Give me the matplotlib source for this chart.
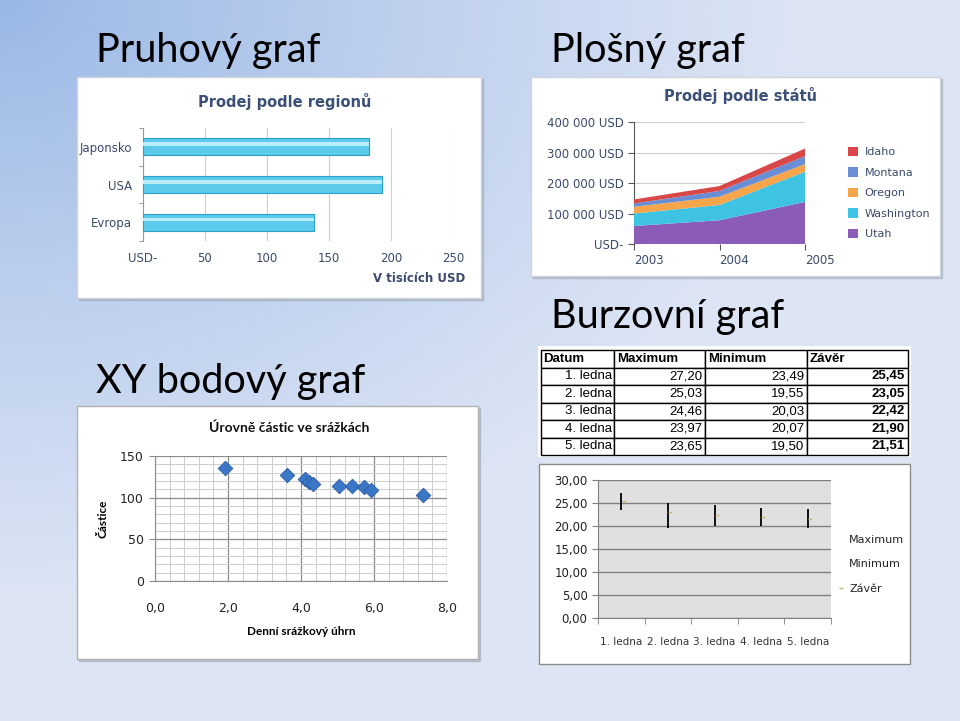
import numpy as np
import matplotlib.pyplot as plt
from matplotlib.patches import Rectangle
from matplotlib.lines import Line2D
from matplotlib.ticker import MultipleLocator

W, H = 960, 721

# --- data ---
regions = ['Evropa', 'USA', 'Japonsko']
region_sales = [138, 193, 182]

years = [2003, 2004, 2005]
states = ['Utah', 'Washington', 'Oregon', 'Montana', 'Idaho']
utah = [59000, 78000, 138000]
washington = [41000, 50000, 99000]
oregon = [22000, 27000, 25000]
montana = [11000, 19000, 26000]
idaho = [13000, 16000, 25000]
state_colors = ['#8a5cb8', '#3fc3e3', '#f6a54a', '#6a8ed6', '#d94848']

rain = [1.92, 3.61, 4.12, 4.23, 4.34, 5.03, 5.41, 5.73, 5.93, 7.33]
particles = [136, 127.6, 122.4, 118.8, 116.4, 113.6, 113.6, 112.4, 109.2, 102.8]

days = ['1. ledna', '2. ledna', '3. ledna', '4. ledna', '5. ledna']
high = [27.20, 25.03, 24.46, 23.97, 23.65]
low = [23.49, 19.55, 20.03, 20.07, 19.50]
close = [25.45, 23.05, 22.42, 21.90, 21.51]


def cz(v, d=2):
    return f"{v:.{d}f}".replace('.', ',')


def px(l, t, r, b):
    return [l / W, 1 - b / H, (r - l) / W, (b - t) / H]


fig = plt.figure(figsize=(9.6, 7.21), dpi=100)

# background
bg = fig.add_axes([0, 0, 1, 1])
bg.set_xlim(0, W)
bg.set_ylim(H, 0)
bg.axis('off')
yy, xx = np.mgrid[0:H:4, 0:W:4]
t = np.clip(np.hypot(xx / W, yy / H) / 0.85, 0, 1) ** 0.9
c1 = np.array([0.60, 0.72, 0.90])
c2 = np.array([0.87, 0.90, 0.96])
img = c1 + (c2 - c1) * t[..., None]
bg.imshow(img, extent=[0, W, H, 0], aspect='auto', zorder=0)

title_font = dict(fontsize=28.5, family='Lato', color='black', va='baseline')
bg.text(96, 62, 'Pruhový graf', **title_font)
bg.text(551, 62, 'Plošný graf', **title_font)
bg.text(551, 328, 'Burzovní graf', **title_font)
bg.text(96, 393, 'XY bodový graf', **title_font)


def panel(l, t, r, b, edge='#d0d4da'):
    bg.add_patch(Rectangle((l + 2, t + 2), r - l, b - t, color='#9aa3b0', alpha=0.5, zorder=1))
    bg.add_patch(Rectangle((l, t), r - l, b - t, facecolor='white', edgecolor=edge, lw=1, zorder=2))


panel(77, 77, 481, 298)
panel(531, 77, 940, 276)
panel(77, 406, 478, 659, edge='#b0b0b0')
bg.add_patch(Rectangle((539, 464), 371, 200, facecolor='white', edgecolor='#8c8c8c', lw=1, zorder=2))
bg.add_patch(Rectangle((538, 346), 373, 111, facecolor='white', edgecolor='none', zorder=2))

txt = '#3b4a6c'

# --- bar chart ---
ax1 = fig.add_axes(px(143, 128, 453, 241))
ypos = np.arange(len(regions))
ax1.barh(ypos, region_sales, height=0.45, color='#5ccaea', edgecolor='#2aa2c8', lw=0.8, zorder=3)
ax1.barh(ypos + 0.07, region_sales, height=0.1, color='#b8eefb', lw=0, zorder=4)
ax1.set_xlim(0, 250)
ax1.set_ylim(-0.5, 2.5)
ax1.set_xticks([0, 50, 100, 150, 200, 250])
ax1.set_xticklabels(['USD-', '50', '100', '150', '200', '250'])
ax1.set_yticks(ypos)
ax1.set_yticklabels(regions)
ax1.set_yticks([-0.5, 0.5, 1.5, 2.5], minor=True)
ax1.tick_params(axis='both', length=0, labelsize=8.5, labelcolor=txt, pad=8)
ax1.tick_params(axis='y', which='minor', length=3, color='#888888')
ax1.grid(axis='x', color='#cfcfcf', lw=0.8)
ax1.set_axisbelow(True)
for s in ['top', 'right', 'bottom']:
    ax1.spines[s].set_visible(False)
ax1.spines['left'].set_color('#999999')
bg.text(285, 101, 'Prodej podle regionů', ha='center', va='center', fontsize=10.5,
        fontweight='bold', color='#3b5078', zorder=5)
bg.text(465, 279, 'V tisících USD', ha='right', va='center', fontsize=8.5,
        fontweight='bold', color=txt, zorder=5)

# --- area chart ---
ax2 = fig.add_axes(px(634, 122, 805, 244))
polys = ax2.stackplot(years, utah, washington, oregon, montana, idaho,
                      colors=state_colors, edgecolor='none', zorder=3)
ax2.set_xlim(2003, 2005)
ax2.set_ylim(0, 400000)
ax2.set_yticks([0, 100000, 200000, 300000, 400000])
ax2.set_yticklabels(['USD-', '100 000 USD', '200 000 USD', '300 000 USD', '400 000 USD'])
ax2.set_xticks(years)
ax2.set_xticklabels([str(y) for y in years], ha='left')
ax2.tick_params(axis='y', length=4, labelsize=8.5, labelcolor=txt, color='#555555')
ax2.tick_params(axis='x', length=4, labelsize=8.5, labelcolor=txt, color='#555555', pad=3)
ax2.grid(axis='y', color='#cfcfcf', lw=0.8)
ax2.set_axisbelow(True)
for s in ['top', 'right', 'bottom']:
    ax2.spines[s].set_visible(False)
ax2.spines['left'].set_color('#555555')
ax2.legend(polys[::-1], states[::-1], loc='upper left', bbox_to_anchor=(838 / W, 1 - 137 / H),
           bbox_transform=fig.transFigure, frameon=False, fontsize=8, labelcolor=txt,
           handlelength=0.9, handleheight=0.9, labelspacing=0.9, handletextpad=0.6)
bg.text(740, 95, 'Prodej podle států', ha='center', va='center', fontsize=10.5,
        fontweight='bold', color='#3b5078', zorder=5)

# --- scatter ---
ax3 = fig.add_axes(px(155, 456, 447, 581))
ax3.scatter(rain, particles, marker='D', s=55, color='#3a77c6', edgecolor='#2a5ca5',
            lw=0.6, zorder=4)
ax3.set_xlim(0, 8)
ax3.set_ylim(0, 150)
ax3.set_xticks([0, 2, 4, 6, 8])
ax3.set_xticklabels([cz(v, 1) for v in [0, 2, 4, 6, 8]])
ax3.set_yticks([0, 50, 100, 150])
ax3.xaxis.set_minor_locator(MultipleLocator(0.4))
ax3.yaxis.set_minor_locator(MultipleLocator(10))
ax3.grid(which='major', color='#8c8c8c', lw=0.9)
ax3.grid(which='minor', color='#cdcdcd', lw=0.7)
ax3.set_axisbelow(True)
ax3.tick_params(which='both', length=0, labelsize=9, labelcolor='#222222', pad=15)
ax3.tick_params(axis='y', which='major', length=4, color='#8c8c8c', pad=4)
for s in ['top', 'right']:
    ax3.spines[s].set_visible(False)
ax3.spines['left'].set_color('#8c8c8c')
ax3.spines['bottom'].set_color('#8c8c8c')
ax3.set_xlabel('Denní srážkový úhrn', fontsize=8.5, fontweight='bold', family='Lato', labelpad=8)
ax3.set_ylabel('Částice', fontsize=8.5, fontweight='bold', family='Lato', labelpad=8)
bg.text(289, 428, 'Úrovně částic ve srážkách', ha='center', va='center', fontsize=10,
        fontweight='bold', family='Lato', color='#111111', zorder=5)

# --- table ---
ax4 = fig.add_axes(px(541, 350, 908, 455))
ax4.axis('off')
rows = [[d, cz(h), cz(lo), cz(c)] for d, h, lo, c in zip(days, high, low, close)]
tbl = ax4.table(cellText=rows, colLabels=['Datum', 'Maximum', 'Minimum', 'Závěr'],
                colWidths=[73, 91, 102, 101], cellLoc='right', bbox=[0, 0, 1, 1])
tbl.auto_set_font_size(False)
for (r, c), cell in tbl.get_celld().items():
    cell.set_edgecolor('black')
    cell.set_linewidth(1)
    cell.PAD = 0.03
    cell.get_text().set_fontsize(9.5)
    cell.get_text().set_family('Liberation Sans')
    if r == 0:
        cell.get_text().set_fontweight('bold')
        cell.get_text().set_ha('left')
        cell._loc = 'left'
    elif c == 3:
        cell.get_text().set_fontweight('bold')

# --- stock chart ---
ax5 = fig.add_axes(px(598, 480, 831, 618))
ax5.set_facecolor('#e0e0e0')
xs = np.arange(len(days))
ax5.vlines(xs, low, high, color='black', lw=1.3, zorder=3)
ax5.plot(xs + 0.05, close, ls='none', marker='_', ms=3, color='#c6b57a', zorder=4)
ax5.set_xlim(-0.5, 4.5)
ax5.set_ylim(0, 30)
ax5.set_yticks(np.arange(0, 31, 5))
ax5.set_yticklabels([cz(v) for v in np.arange(0, 31, 5)])
ax5.set_xticks(xs)
ax5.set_xticklabels(days)
ax5.set_xticks(np.arange(-0.5, 5, 1), minor=True)
ax5.grid(axis='y', color='#808080', lw=1)
ax5.set_axisbelow(True)
ax5.tick_params(axis='x', which='major', length=0, labelsize=7.5, labelcolor='#333333', pad=14)
ax5.tick_params(axis='x', which='minor', length=4, color='#808080')
ax5.tick_params(axis='y', length=4, color='#808080', labelsize=8.5, labelcolor='#222222')
for s in ['top', 'right']:
    ax5.spines[s].set_visible(False)
ax5.spines['left'].set_color('#808080')
ax5.spines['bottom'].set_color('#808080')
handles = [Line2D([], [], ls='none'), Line2D([], [], ls='none'),
           Line2D([], [], ls='none', marker='_', ms=3, color='#c6b57a')]
ax5.legend(handles, ['Maximum', 'Minimum', 'Závěr'], loc='upper left',
           bbox_to_anchor=(828 / W, 1 - 525 / H), bbox_transform=fig.transFigure,
           frameon=False, fontsize=8, labelcolor='#222222', handlelength=0.6,
           handletextpad=0.4, labelspacing=1.3)

fig.savefig('out.png', dpi=100)
